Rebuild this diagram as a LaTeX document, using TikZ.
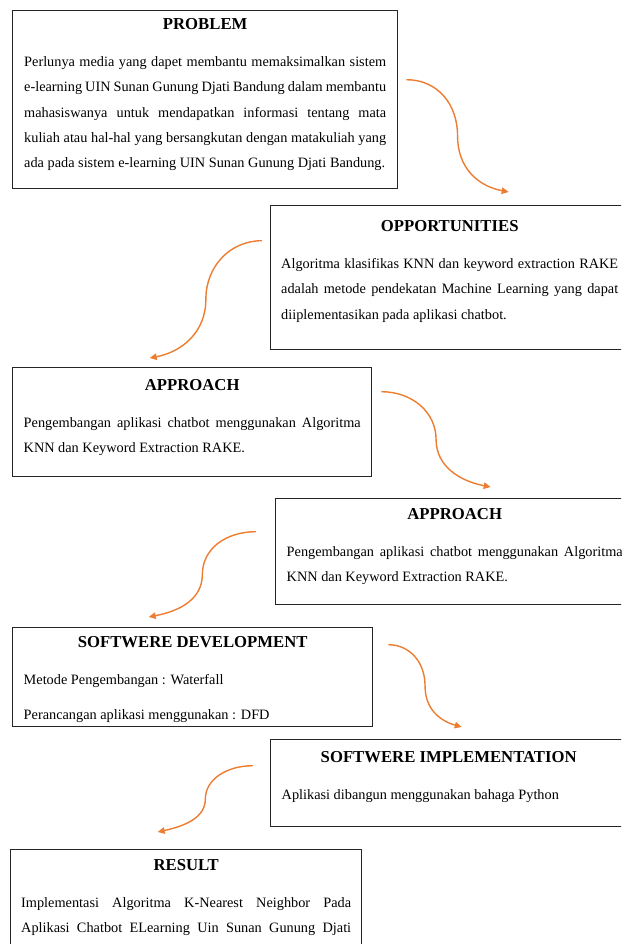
\documentclass[tikz,border=0pt]{standalone}
\usepackage{fontspec}
\setmainfont{Liberation Serif}
\usepackage{tikz}
\usetikzlibrary{arrows.meta, calc}

\definecolor{flowc}{RGB}{237,125,49}
\hyphenpenalty=10000
\exhyphenpenalty=10000
\newcommand{\boxhead}[1]{{\centering\fontsize{16.7}{20}\selectfont\bfseries #1\par}\vspace{12pt}}

\begin{document}
\begin{tikzpicture}[x=1pt, y=-1pt,
    main/.style = {draw=black!85, line width=1.4pt, anchor=north west, inner sep=0pt},
    body/.style = {anchor=base, align=justify, inner sep=0pt, font=\fontsize{14.3}{25.2}\selectfont},
    flow/.style = {-{Triangle[length=7pt, width=6.5pt]}, draw=flowc, line width=1.4pt}]
    \useasboundingbox (0,0) rectangle (621,944);
    \clip (0,0) rectangle (621,944);

    \node[main, minimum width=385, minimum height=178] (1) at (12,10) {};
    \node[main, minimum width=358, minimum height=144] (2) at (270,205) {};
    \node[main, minimum width=359, minimum height=109] (3) at (12,367) {};
    \node[main, minimum width=358, minimum height=106] (4) at (275,498) {};
    \node[main, minimum width=360, minimum height=99] (5) at (12,627) {};
    \node[main, minimum width=356, minimum height=87] (6) at (270,739) {};
    \node[main, minimum width=351, minimum height=130] (7) at (10,849) {};

    \node[body, text width=362] (1t) at ([shift={(0,19.5)}]1.north) {\boxhead{PROBLEM}
        Perlunya media yang dapet membantu memaksimalkan sistem\linebreak
        e-learning UIN Sunan Gunung Djati Bandung dalam membantu\linebreak
        mahasiswanya untuk mendapatkan informasi tentang mata\linebreak
        kuliah atau hal-hal yang bersangkutan dengan matakuliah yang\linebreak
        ada pada sistem e-learning UIN Sunan Gunung Djati Bandung.};
    \node[body, text width=337] (2t) at ([shift={(0,26.5)}]2.north) {\boxhead{OPPORTUNITIES}
        Algoritma klasifikas KNN dan keyword extraction RAKE\linebreak
        adalah metode pendekatan Machine Learning yang dapat\linebreak
        diiplementasikan pada aplikasi chatbot.};
    \node[body, text width=337] (3t) at ([shift={(0,23.5)}]3.north) {\boxhead{APPROACH}
        Pengembangan aplikasi chatbot menggunakan Algoritma\linebreak
        KNN dan Keyword Extraction RAKE.};
    \node[body, text width=336] (4t) at ([shift={(0,21.5)}]4.north) {\boxhead{APPROACH}
        Pengembangan aplikasi chatbot menggunakan Algoritma\linebreak
        KNN dan Keyword Extraction RAKE.};
    \node[body, text width=338] (5t) at ([shift={(0,20.5)}]5.north) {\boxhead{SOFTWERE DEVELOPMENT}
        Metode Pengembangan : Waterfall\par\vspace{10pt}
        Perancangan aplikasi menggunakan : DFD};
    \node[body, text width=334] (6t) at ([shift={(0,23.5)}]6.north) {\boxhead{SOFTWERE IMPLEMENTATION}
        Aplikasi dibangun menggunakan bahaga Python};
    \node[body, text width=330] (7t) at ([shift={(0,21.5)}]7.north) {\boxhead{RESULT}
        Implementasi Algoritma K-Nearest Neighbor Pada\linebreak
        \makebox[\linewidth][s]{Aplikasi Chatbot ELearning Uin Sunan Gunung Djati}};

    % arrow ends beside the boxes
    \coordinate (1o) at ([shift={(8,-20)}]1.east);
    \coordinate (2i) at ([shift={(59,-13)}]2.north);
    \coordinate (2o) at ([shift={(-8,-37)}]2.west);
    \coordinate (3i) at ([shift={(-42.5,-9)}]3.north);
    \coordinate (3o) at ([shift={(9,-30.5)}]3.east);
    \coordinate (4i) at ([shift={(36,-11)}]4.north);
    \coordinate (4o) at ([shift={(-19,-20)}]4.west);
    \coordinate (5i) at ([shift={(-44,-10)}]5.north);
    \coordinate (5o) at ([shift={(15,-32.5)}]5.east);
    \coordinate (6i) at ([shift={(13,-12)}]6.north);
    \coordinate (6o) at ([shift={(-17,-17.5)}]6.west);
    \coordinate (7i) at ([shift={(-28.5,-17)}]7.north);

    \draw[flow] (1o) .. controls +(31,0) and +(0,-32) .. ($(1o)!.5!(2i)$) .. controls +(0,32) and +(-31,-6) .. (2i);
    \draw[flow] (2o) .. controls +(-32,0) and +(0,-33) .. ($(2o)!.5!(3i)$) .. controls +(0,33) and +(32,-6) .. (3i);
    \draw[flow] (3o) .. controls +(31,0) and +(0,-27) .. ($(3o)!.5!(4i)$) .. controls +(0,27) and +(-31,-6) .. (4i);
    \draw[flow] (4o) .. controls +(-31,0) and +(0,-25) .. ($(4o)!.5!(5i)$) .. controls +(0,25) and +(31,-6) .. (5i);
    \draw[flow] (5o) .. controls +(21,0) and +(0,-24) .. ($(5o)!.5!(6i)$) .. controls +(0,24) and +(-21,-6) .. (6i);
    \draw[flow] (6o) .. controls +(-27,0) and +(0,-19) .. ($(6o)!.5!(7i)$) .. controls +(0,19) and +(27,-6) .. (7i);
\end{tikzpicture}
\end{document}
